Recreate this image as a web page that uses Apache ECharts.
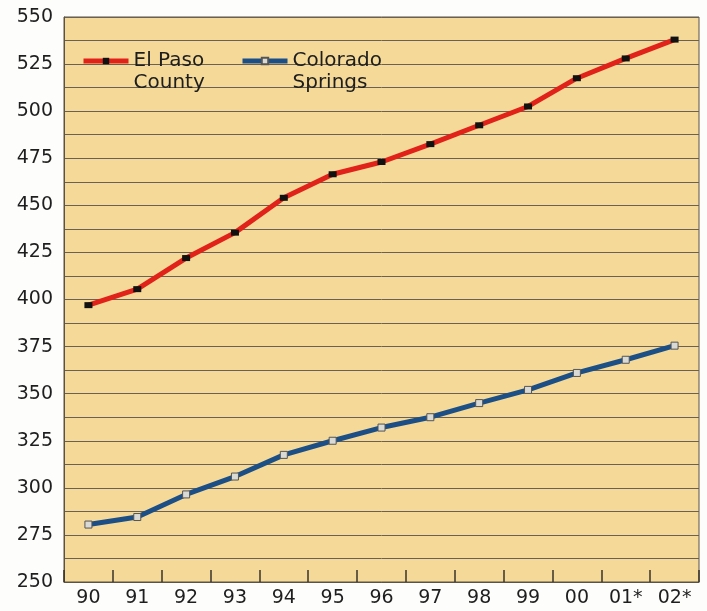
<!DOCTYPE html>
<html>
<head>
<meta charset="utf-8">
<script src="https://cdn.jsdelivr.net/npm/echarts@6/dist/echarts.min.js"></script>
<style>
  html, body { margin: 0; padding: 0; background: #fdfdfc; }
  #chart { width: 707px; height: 611px; }
</style>
</head>
<body>
<div id="chart"></div>
<script>
  // years, thousands of people
  var years = ['90', '91', '92', '93', '94', '95', '96', '97', '98', '99', '00', '01*', '02*'];
  var elPaso = [397, 405.5, 422, 435.5, 454, 466.5, 473, 482.5, 492.5, 502.5, 517.5, 528, 538];
  var coloradoSprings = [280.5, 284.5, 296.5, 306, 317.5, 325, 332, 337.5, 345, 352, 361, 368, 375.5];
  var elPasoName = 'El Paso\nCounty';
  var springsName = 'Colorado\nSprings';

  var font = 'DejaVu Sans';
  var chart = echarts.init(document.getElementById('chart'));

  // blank first line so the first line of the name sits level with the icon
  function legendLabel(name) {
    return '\n' + name;
  }

  var legendText = {
    fontFamily: font,
    fontSize: 20,
    color: '#1e1e1e',
    lineHeight: 22
  };

  chart.setOption({
    backgroundColor: '#fdfdfc',
    animation: false,
    grid: {
      left: 64,
      right: 8,
      top: 17,
      bottom: 29,
      show: true,
      backgroundColor: '#f4d998',
      borderColor: '#5b5244',
      borderWidth: 1
    },
    legend: [
      {
        data: [elPasoName],
        formatter: legendLabel,
        left: 81,
        top: 28,
        padding: 0,
        itemWidth: 45,
        itemHeight: 8,
        lineStyle: { width: 5 },
        textStyle: legendText
      },
      {
        data: [springsName],
        formatter: legendLabel,
        left: 240,
        top: 28,
        padding: 0,
        itemWidth: 45,
        itemHeight: 8,
        lineStyle: { width: 5 },
        textStyle: legendText
      }
    ],
    xAxis: {
      type: 'category',
      data: years,
      boundaryGap: true,
      axisLine: { lineStyle: { color: '#5b5244', width: 1 } },
      axisTick: { show: true, inside: true, length: 12, lineStyle: { color: '#3a3328', width: 1.5 } },
      axisLabel: { fontFamily: font, fontSize: 19, color: '#1e1e1e', margin: 7 }
    },
    yAxis: {
      type: 'value',
      min: 250,
      max: 550,
      interval: 25,
      axisLine: { show: true, lineStyle: { color: '#5b5244' } },
      axisTick: { show: false },
      axisLabel: { fontFamily: font, fontSize: 19, color: '#1e1e1e', margin: 11 },
      splitLine: { lineStyle: { color: '#6b6152', width: 1 } },
      minorTick: { show: false, splitNumber: 2 },
      minorSplitLine: { show: true, lineStyle: { color: '#6b6152', width: 1 } }
    },
    series: [
      {
        name: elPasoName,
        type: 'line',
        data: elPaso,
        symbol: 'rect',
        symbolSize: [8, 6],
        showAllSymbol: true,
        lineStyle: { color: '#e1221a', width: 5 },
        itemStyle: { color: '#111111' },
        z: 3
      },
      {
        name: springsName,
        type: 'line',
        data: coloradoSprings,
        symbol: 'rect',
        symbolSize: 7,
        showAllSymbol: true,
        lineStyle: { color: '#1c4f85', width: 5 },
        itemStyle: { color: '#d9d9d6', borderColor: '#555555', borderWidth: 1 },
        z: 3
      }
    ]
  });
</script>
</body>
</html>
